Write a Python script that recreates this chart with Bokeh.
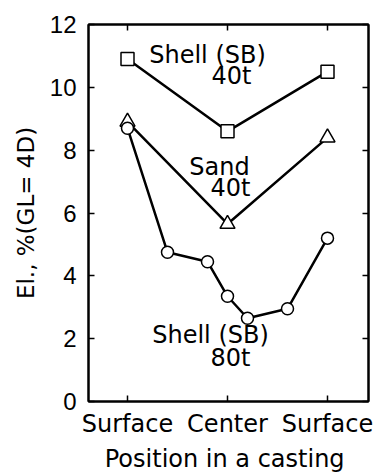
from bokeh.plotting import figure
from bokeh.models import Range1d, LinearAxis, FixedTicker, ColumnDataSource
from bokeh.core.properties import value
from bokeh.embed import file_html
from bokeh.resources import INLINE

# Position through the casting: 0 = surface, 0.5 = center, 1 = opposite surface
shell40_x = [0.0, 0.5, 1.0]
shell40_y = [10.9, 8.6, 10.5]

sand40_x = [0.0, 0.5, 1.0]
sand40_y = [8.9, 5.65, 8.4]

shell80_x = [0.0, 0.2, 0.4, 0.5, 0.6, 0.8, 1.0]
shell80_y = [8.7, 4.75, 4.45, 3.35, 2.65, 2.95, 5.2]

x_ticks = [0, 0.5, 1]
x_tick_labels = ["Surface", "Center", "Surface"]
y_ticks = [0, 2, 4, 6, 8, 10, 12]

# Curve annotations: (x, y, text)
notes_x = [0.40, 0.52, 0.46, 0.515, 0.415, 0.515]
notes_y = [11.04, 10.36, 7.48, 6.80, 2.13, 1.39]
notes_t = ["Shell (SB)", "40t", "Sand", "40t", "Shell (SB)", "80t"]

FONT = "DejaVu Sans"

p = figure(width=384, height=475, output_backend="svg", toolbar_location=None,
           x_range=Range1d(-0.195, 1.205), y_range=Range1d(0, 12),
           min_border_left=88, min_border_right=16, min_border_top=24,
           min_border_bottom=63)
p.grid.visible = False
p.outline_line_color = "black"
p.outline_line_width = 2
p.background_fill_color = "white"
p.border_fill_color = "white"

# Bottom axis
xa = p.xaxis[0]
xa.ticker = FixedTicker(ticks=x_ticks)
xa.major_label_overrides = {t: lab for t, lab in zip(x_ticks, x_tick_labels)}
xa.axis_label = "Position in a  casting"
# Left axis
ya = p.yaxis[0]
ya.ticker = FixedTicker(ticks=y_ticks)
ya.axis_label = "El., %(GL= 4D)"

for ax in (xa, ya):
    ax.major_tick_in = 6
    ax.major_tick_out = 0
    ax.minor_tick_line_color = None
    ax.axis_line_width = 2
    ax.major_tick_line_width = 1.5
    ax.axis_label_text_font = FONT
    ax.axis_label_text_font_style = "normal"
    ax.axis_label_text_color = "black"
    ax.major_label_text_color = "black"

xa.major_label_text_font = FONT
xa.major_label_text_font_size = "24px"
xa.major_label_standoff = 8
xa.axis_label_text_font_size = "24px"
xa.axis_label_standoff = 4

ya.major_label_text_font = "Liberation Sans"
ya.major_label_text_font_size = "24px"
ya.major_label_standoff = 12
ya.axis_label_text_font_size = "23px"
ya.axis_label_standoff = 8

# Mirror ticks on top and right (no labels)
top = LinearAxis(ticker=FixedTicker(ticks=x_ticks),
                 major_label_overrides={t: "" for t in x_ticks},
                 major_tick_in=6, major_tick_out=0, minor_tick_line_color=None,
                 axis_line_width=2, major_tick_line_width=1.5, major_label_standoff=0)
right = LinearAxis(ticker=FixedTicker(ticks=y_ticks),
                   major_label_overrides={t: "" for t in y_ticks},
                   major_tick_in=6, major_tick_out=0, minor_tick_line_color=None,
                   axis_line_width=2, major_tick_line_width=1.5, major_label_standoff=0)
p.add_layout(top, "above")
p.add_layout(right, "right")

# Curves
p.line(shell40_x, shell40_y, line_color="black", line_width=2.5)
p.scatter(shell40_x, shell40_y, marker="square", size=13, fill_color="white",
          line_color="black", line_width=1.5)

p.line(sand40_x, sand40_y, line_color="black", line_width=2.5)
p.scatter(sand40_x, sand40_y, marker="triangle", size=15, fill_color="white",
          line_color="black", line_width=1.5)

p.line(shell80_x, shell80_y, line_color="black", line_width=2.5)
p.scatter(shell80_x, shell80_y, marker="circle", size=12, fill_color="white",
          line_color="black", line_width=1.5)

src = ColumnDataSource(dict(x=notes_x, y=notes_y, t=notes_t))
p.text(x="x", y="y", text="t", source=src, text_font=value(FONT),
       text_font_size="24px", text_align="center", text_baseline="middle",
       text_color="black")

open("out.html", "w").write(file_html(p, INLINE))
